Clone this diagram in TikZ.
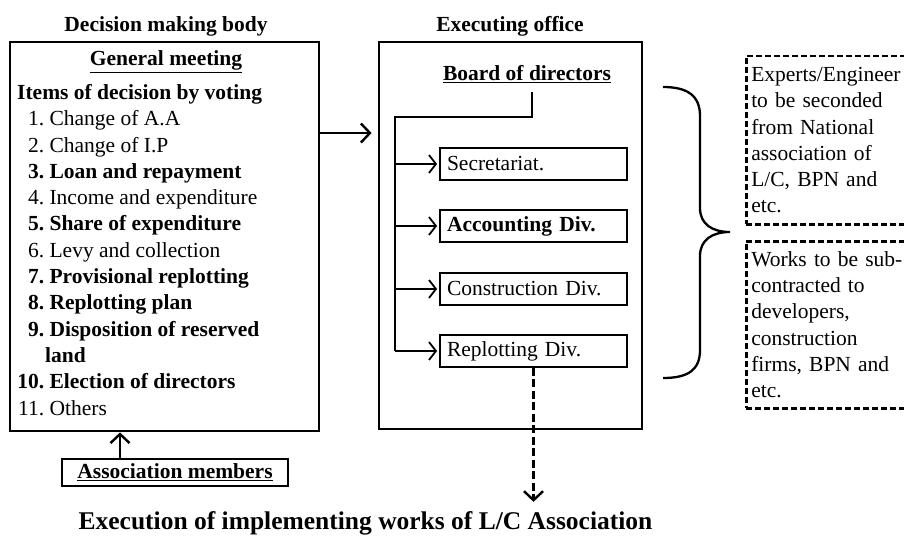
\documentclass[tikz,border=0pt]{standalone}
\usepackage{fontspec}
\setmainfont{Liberation Serif}
\usetikzlibrary{arrows.meta}
\newcommand\itnum[1]{\makebox[27pt][r]{#1}\ }
\begin{document}
\begin{tikzpicture}[x=1pt,y=-1pt,
  txt/.style={font=\fontsize{21.5}{26.3}\selectfont, inner sep=0pt},
  hd/.style={inner sep=0pt, font=\fontsize{21.5}{26.3}\selectfont\bfseries},
  frame/.style={draw, line width=2.8pt, inner sep=0pt},
  divbox/.style={draw, line width=1.8pt, minimum height=32pt, text width=173pt,
    inner xsep=7pt, inner ysep=0pt, align=left, font=\fontsize{21.5}{26.3}\selectfont},
  note/.style={draw, line width=2.5pt, dash pattern=on 6pt off 3pt, anchor=north west,
    text width=157pt, inner xsep=5pt, inner ysep=0pt, align=left,
    font=\fontsize{21.5}{26.3}\selectfont},
  thinline/.style={line width=1.3pt},
  barb/.style={-{Straight Barb[length=9pt,width=19pt,line width=2.4pt]}},
  smallbarb/.style={-{Straight Barb[length=7pt,width=18pt,line width=1.8pt]}},
]
\useasboundingbox (0,0) rectangle (904,535);

% decision making body
\node[hd, anchor=base] (dmb) at (166,32) {Decision making body};
\node[frame, minimum width=309pt, minimum height=389pt] (decbox) at (164.5,236.5) {};
\node[hd, anchor=base] (gm) at (166,66) {\underline{General meeting}};
% the base anchor of this list sits on its last line
\node[txt, anchor=base west, align=left] (items) at (17,415) {%
  \textbf{Items of decision by voting}\\
  \itnum{1.}Change of A.A\\
  \itnum{2.}Change of I.P\\
  \textbf{\itnum{3.}Loan and repayment}\\
  \itnum{4.}Income and expenditure\\
  \textbf{\itnum{5.}Share of expenditure}\\
  \itnum{6.}Levy and collection\\
  \textbf{\itnum{7.}Provisional replotting}\\
  \textbf{\itnum{8.}Replotting plan}\\
  \textbf{\itnum{9.}Disposition of reserved}\\
  \textbf{\hspace*{28pt}land}\\
  \textbf{\itnum{10.}Election of directors}\\
  \itnum{11.}Others};

% association members
\node[draw, line width=2.4pt, minimum width=226pt, minimum height=27pt, inner sep=0pt,
  font=\fontsize{21.5}{26.3}\selectfont\bfseries] (am) at (175,472.5) {\underline{Association members}};
\coordinate (upx) at (120,0);
\draw[line width=2.7pt, barb] (am.north -| upx) -- (decbox.south -| upx);

% executing office
\node[hd, anchor=base] (eo) at (510,32) {Executing office};
\node[frame, minimum width=263pt, minimum height=387pt] (exebox) at (510.5,235.5) {};
\node[hd, anchor=base] (bod) at (527,81) {\underline{Board of directors}};

\node[divbox] (sec) at (533.5,164) {Secretariat.};
\node[divbox, font=\fontsize{21.5}{26.3}\selectfont\bfseries] (acc) at (533.5,226) {Accounting Div.};
\node[divbox] (con) at (533.5,289) {Construction Div.};
\node[divbox] (rep) at (533.5,351) {Replotting Div.};

\coordinate (bodfoot) at (532,92);
\coordinate (trunk) at (395,117);
\draw[thinline] (bodfoot) -- (bodfoot |- trunk) -- (trunk) -- (trunk |- rep.west);
\foreach \d in {sec,acc,con,rep}
  \draw[thinline, smallbarb, shorten >=2pt] (trunk |- \d.west) -- (\d.west);

% decision flows to the executing office
\coordinate (ar) at (0,133);
\draw[line width=2.5pt, barb, shorten >=6pt] (decbox.east |- ar) -- (exebox.west |- ar);

% outcome
\node[anchor=base, inner sep=0pt, font=\fontsize{25.5}{30}\selectfont\bfseries] (exec) at (365.5,529)
  {Execution of implementing works of L/C Association};
\draw[line width=2.7pt, dash pattern=on 8pt off 3.5pt, barb, shorten >=9pt]
  (rep.south) -- (exec.north -| rep.south);

% support from outside
\draw[line width=2.3pt] (663,87) .. controls (688,87) and (700,96) .. (700,116)
  -- (700,208) .. controls (700,224) and (712,232) .. (730,232)
  .. controls (712,232) and (700,240) .. (700,256)
  -- (700,350) .. controls (700,370) and (688,378) .. (663,378);

\node[note, minimum height=168pt] (experts) at (745,55)
  {Experts/Engineer\\ to be seconded\\ from National\\ association of\\ L/C, BPN and\\ etc.};
\node[note, minimum height=167pt] (works) at (745,240)
  {Works to be sub-\\ contracted to\\ developers,\\ construction\\ firms, BPN and\\ etc.};
\end{tikzpicture}
\end{document}
